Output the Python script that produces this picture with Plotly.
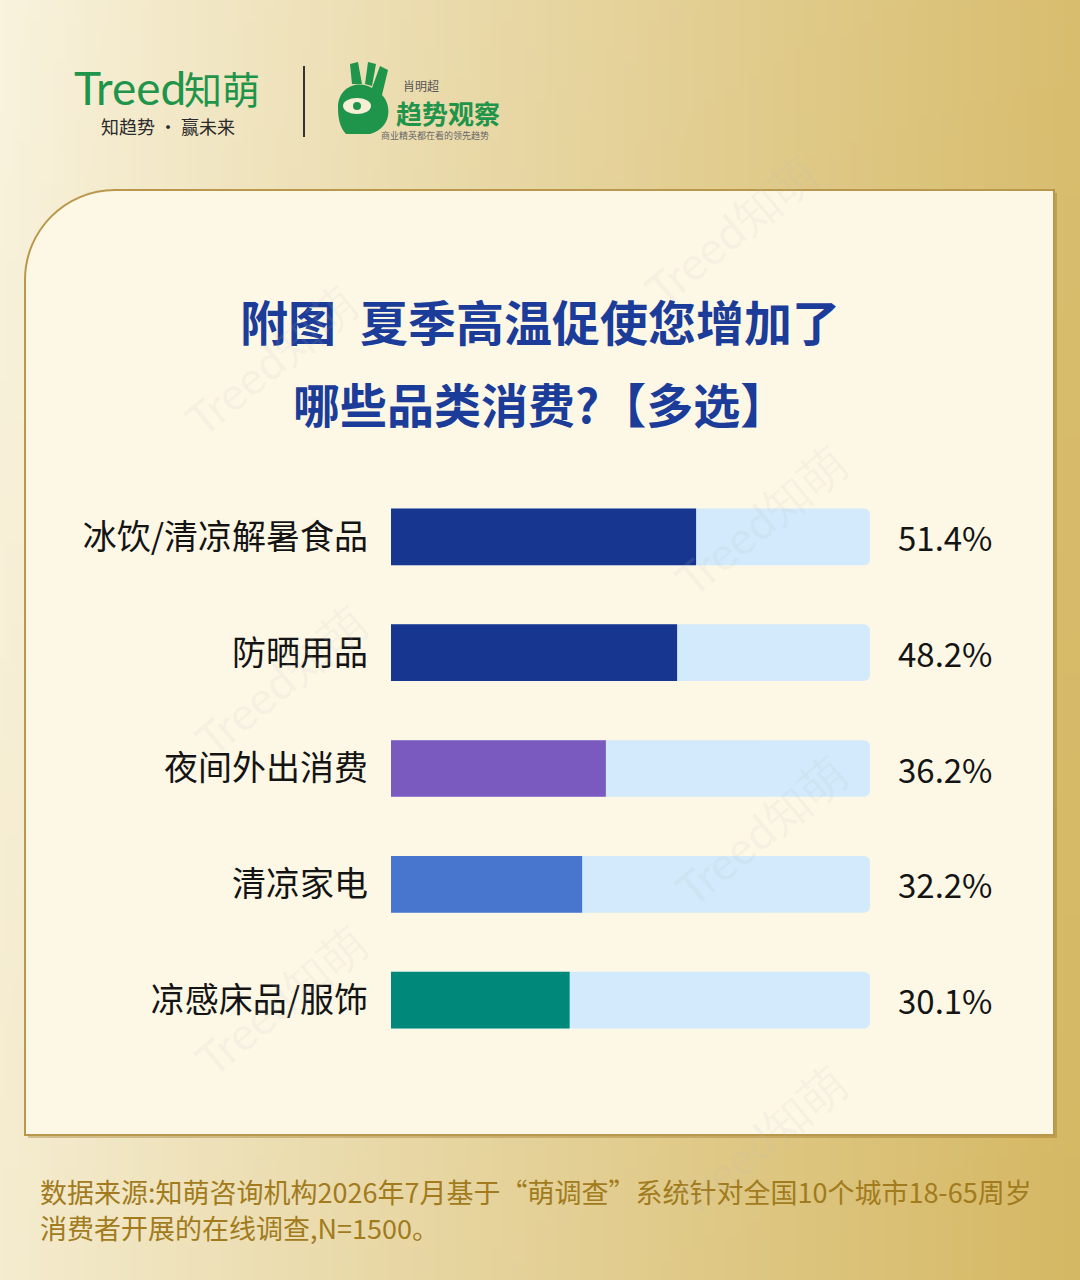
import base64
import struct
import zlib

import plotly.graph_objects as go

# ---------------- data ----------------
CATEGORIES = ["冰饮/清凉解暑食品", "防晒用品", "夜间外出消费", "清凉家电", "凉感床品/服饰"]
VALUES = [51.4, 48.2, 36.2, 32.2, 30.1]
VALUE_LABELS = ["51.4%", "48.2%", "36.2%", "32.2%", "30.1%"]
BAR_COLORS = ["#16368f", "#16368f", "#7b5ac0", "#4876cf", "#00897b"]

TITLE_LINES = ["附图\u2002夏季高温促使您增加了", "哪些品类消费?【多选】"]
FOOTNOTE_LINES = [
    "数据来源:知萌咨询机构2026年7月基于“萌调查”系统针对全国10个城市18-65周岁",
    "消费者开展的在线调查,N=1500。",
]

# ---------------- styling ----------------
W, H = 1080, 1280
TRACK_MAX = 80.7
FONT = "Noto Sans CJK SC"


def px(x):
    return x / W


def py(y):
    return 1 - y / H


def gradient_png(w=96, h=96):
    c0 = (249, 243, 222)
    c1 = (213, 184, 100)
    rows = []
    for j in range(h):
        row = bytearray([0])
        for i in range(w):
            t = 0.9 * i / (w - 1) + 0.1 * j / (h - 1)
            t = min(1.0, max(0.0, t)) ** 0.9
            row += bytes(int(round(a + (b - a) * t)) for a, b in zip(c0, c1))
        rows.append(bytes(row))
    raw = b"".join(rows)

    def chunk(tag, data):
        c = struct.pack(">I", len(data)) + tag + data
        return c + struct.pack(">I", zlib.crc32(tag + data) & 0xFFFFFFFF)

    png = b"\x89PNG\r\n\x1a\n"
    png += chunk(b"IHDR", struct.pack(">IIBBBBB", w, h, 8, 2, 0, 0, 0))
    png += chunk(b"IDAT", zlib.compress(raw, 9))
    png += chunk(b"IEND", b"")
    return "data:image/png;base64," + base64.b64encode(png).decode()


def rounded_panel(left, top, right, bottom, r):
    k = 0.5523 * r
    pts = [
        f"M {px(left)},{py(top + r)}",
        f"C {px(left)},{py(top + r - k)} {px(left + r - k)},{py(top)} {px(left + r)},{py(top)}",
        f"L {px(right)},{py(top)}",
        f"L {px(right)},{py(bottom)}",
        f"L {px(left)},{py(bottom)}",
        "Z",
    ]
    return " ".join(pts)


fig = go.Figure()

# track bars
fig.add_trace(go.Bar(
    y=CATEGORIES, x=[TRACK_MAX] * len(CATEGORIES), orientation="h",
    marker=dict(color="#d2eafb", line=dict(width=0)), width=0.49,
    hoverinfo="skip", showlegend=False,
))
# value bars
fig.add_trace(go.Bar(
    y=CATEGORIES, x=VALUES, orientation="h",
    marker=dict(color=BAR_COLORS, line=dict(width=0)), width=0.49,
    showlegend=False,
))

annotations = []
for cat, lab in zip(CATEGORIES, VALUE_LABELS):
    annotations.append(dict(
        x=TRACK_MAX, y=cat, xref="x", yref="y", text=lab, showarrow=False,
        xanchor="left", yanchor="middle", xshift=26,
        font=dict(family=FONT, size=33, color="#141414"),
    ))

# title
for line, yc, fs in zip(TITLE_LINES, [320, 402], [48, 47]):
    annotations.append(dict(
        x=0.5, y=py(yc), xref="paper", yref="paper", text=f"<b>{line}</b>",
        showarrow=False, xanchor="center", yanchor="middle",
        font=dict(family=FONT, size=fs, color="#1b3c98"),
    ))

# footnote
for line, yc in zip(FOOTNOTE_LINES, [1191, 1227]):
    annotations.append(dict(
        x=px(38), y=py(yc), xref="paper", yref="paper", text=line,
        showarrow=False, xanchor="left", yanchor="middle",
        font=dict(family=FONT, size=27, color="#a17b1d"),
    ))

# logos (text parts)
annotations += [
    dict(x=px(72), y=py(88), xref="paper", yref="paper", text="Treed",
         showarrow=False, xanchor="left", yanchor="middle",
         font=dict(family="Lato", size=46, color="#1f944b")),
    dict(x=px(262), y=py(88), xref="paper", yref="paper", text="知萌",
         showarrow=False, xanchor="right", yanchor="middle",
         font=dict(family=FONT, size=38, color="#1f944b")),
    dict(x=px(168), y=py(126), xref="paper", yref="paper", text="知趋势 · 赢未来",
         showarrow=False, xanchor="center", yanchor="middle",
         font=dict(family=FONT, size=18, color="#2a2a2a")),
    dict(x=px(401), y=py(86), xref="paper", yref="paper", text="肖明超",
         showarrow=False, xanchor="left", yanchor="middle",
         font=dict(family=FONT, size=12, color="#555555")),
    dict(x=px(394), y=py(113), xref="paper", yref="paper", text="<b>趋势观察</b>",
         showarrow=False, xanchor="left", yanchor="middle",
         font=dict(family=FONT, size=26, color="#1f944b")),
    dict(x=px(435), y=py(136), xref="paper", yref="paper", text="商业精英都在看的领先趋势",
         showarrow=False, xanchor="center", yanchor="middle",
         font=dict(family=FONT, size=9, color="#666666")),
]

# faint watermarks
for wx, wy in [(270, 360), (730, 230), (760, 520), (280, 680), (760, 830),
               (280, 1000), (760, 1140)]:
    annotations.append(dict(
        x=px(wx), y=py(wy), xref="paper", yref="paper", text="Treed知萌",
        showarrow=False, textangle=-40, xanchor="center", yanchor="middle",
        font=dict(family="Lato", size=46, color="rgba(190,190,190,0.13)"),
    ))

shapes = [
    # panel shadow
    dict(type="path", xref="paper", yref="paper",
         path=rounded_panel(28, 193, 1057, 1138, 90),
         fillcolor="rgba(150,110,30,0.35)", line=dict(width=0), layer="below"),
    # panel
    dict(type="path", xref="paper", yref="paper",
         path=rounded_panel(25, 190, 1054, 1135, 90),
         fillcolor="#fdf8e6", line=dict(color="#b9974c", width=2), layer="below"),
    # divider
    dict(type="line", xref="paper", yref="paper", x0=px(304), x1=px(304),
         y0=py(66), y1=py(137), line=dict(color="#333333", width=2)),
    # hand icon: palm
    dict(type="path", xref="paper", yref="paper",
         path=(f"M {px(338)},{py(108)} C {px(338)},{py(85)} {px(360)},{py(80)} {px(372)},{py(88)} "
               f"L {px(380)},{py(66)} L {px(388)},{py(70)} L {px(382)},{py(95)} "
               f"C {px(392)},{py(105)} {px(392)},{py(128)} {px(370)},{py(134)} "
               f"L {px(346)},{py(134)} C {px(340)},{py(128)} {px(338)},{py(118)} {px(338)},{py(108)} Z"),
         fillcolor="#1f944b", line=dict(width=0)),
    dict(type="path", xref="paper", yref="paper",
         path=(f"M {px(352)},{py(84)} L {px(350)},{py(64)} L {px(358)},{py(62)} L {px(362)},{py(84)} Z"),
         fillcolor="#1f944b", line=dict(width=0)),
    dict(type="path", xref="paper", yref="paper",
         path=(f"M {px(365)},{py(84)} L {px(368)},{py(62)} L {px(376)},{py(64)} L {px(372)},{py(86)} Z"),
         fillcolor="#1f944b", line=dict(width=0)),
    # eye
    dict(type="circle", xref="paper", yref="paper", x0=px(343), x1=px(371),
         y0=py(114), y1=py(98), fillcolor="#f6efd6", line=dict(width=0)),
    dict(type="circle", xref="paper", yref="paper", x0=px(353), x1=px(361),
         y0=py(110), y1=py(102), fillcolor="#1f944b", line=dict(width=0)),
]

fig.update_layout(
    width=W, height=H,
    margin=dict(l=0, r=0, t=0, b=0),
    paper_bgcolor="#eddcaa", plot_bgcolor="rgba(0,0,0,0)",
    barmode="overlay", barcornerradius=6,
    font=dict(family=FONT),
    xaxis=dict(domain=[px(391), px(870)], range=[0, TRACK_MAX], visible=False,
               fixedrange=True),
    yaxis=dict(domain=[1 - 1058 / H, 1 - 479 / H], range=[4.5, -0.5],
               categoryorder="array", categoryarray=CATEGORIES,
               showgrid=False, zeroline=False, showline=False, ticks="",
               ticklabelstandoff=22,
               tickfont=dict(family=FONT, size=34, color="#141414"),
               fixedrange=True),
    images=[dict(source=gradient_png(), xref="paper", yref="paper", x=0, y=1,
                 sizex=1, sizey=1, sizing="stretch", layer="below",
                 xanchor="left", yanchor="top")],
    shapes=shapes,
    annotations=annotations,
    showlegend=False,
)

fig.write_html("out.html", config={"displayModeBar": False},
               post_script="document.body.style.margin='0';document.body.style.padding='0';")
